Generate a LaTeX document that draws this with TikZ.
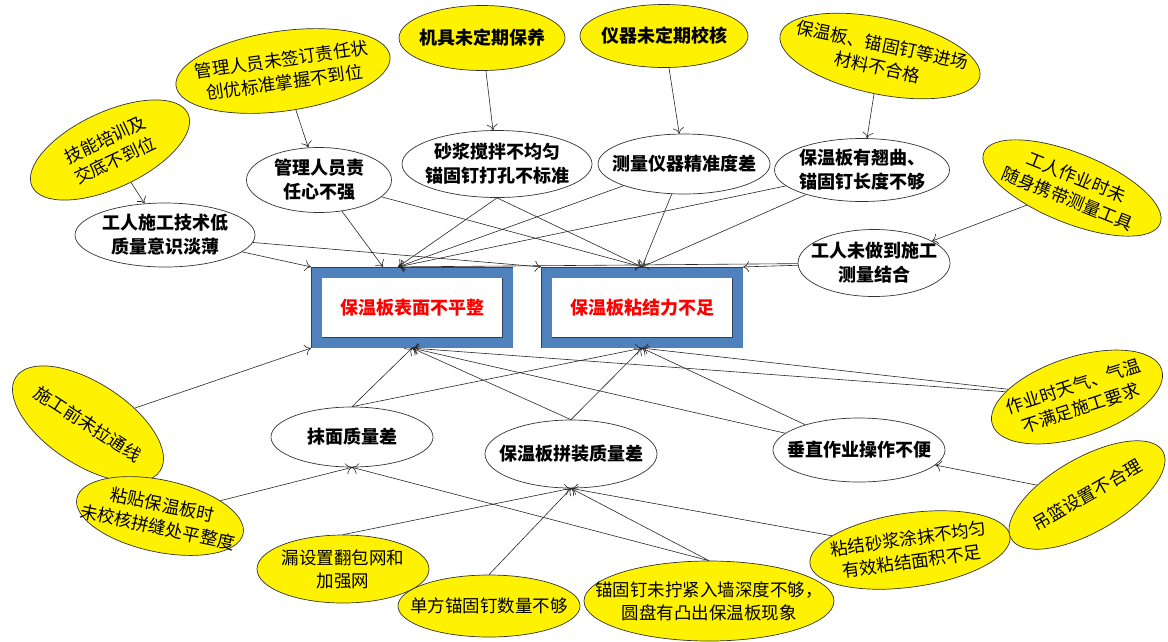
\documentclass[tikz,border=0pt]{standalone}
\usepackage{fontspec}
\setmainfont{Noto Sans CJK SC}
\usetikzlibrary{shapes.geometric,arrows.meta}
\definecolor{boxblue}{RGB}{79,129,189}
\definecolor{boxline}{RGB}{45,65,95}

\begin{document}
\begin{tikzpicture}[x=1pt, y=-1pt,
    cause/.style={ellipse, draw=black!80, line width=0.7pt, fill=white, inner xsep=-70pt, inner ysep=-25pt, align=center, font=\fontsize{18}{24}\selectfont\bfseries},
    root/.style={cause, fill=yellow, font=\fontsize{17.5}{23}\selectfont},
    effect/.style={rectangle, draw=boxline, line width=0.6pt, double=boxblue, double distance=10pt, fill=white, minimum width=191pt, minimum height=70pt, outer sep=5.6pt, text=red, font=\fontsize{18}{24}\selectfont\bfseries},
    con/.style={-{To[length=6pt,width=11pt]}, line width=0.6pt, black!85}]
    \useasboundingbox (0,0) rectangle (1168,641);

    \node[effect](b1) at (412,307.5){保温板表面不平整};
    \node[effect](b2) at (642,307.5){保温板粘结力不足};

    \node[cause, minimum width=180, minimum height=64](w1) at (165,235){工人施工技术低\\质量意识淡薄};
    \node[cause, minimum width=145, minimum height=65](w2) at (319,180){管理人员责\\任心不强};
    \node[cause, minimum width=190, minimum height=67](w3) at (497,164){砂浆搅拌不均匀\\锚固钉打孔不标准};
    \node[cause, minimum width=172, minimum height=60](w4) at (684,164){测量仪器精准度差};
    \node[cause, minimum width=175, minimum height=63](w5) at (862,170){保温板有翘曲、\\锚固钉长度不够};
    \node[cause, minimum width=152, minimum height=67](w6) at (874,263){工人未做到施工\\测量结合};
    \node[cause, minimum width=162, minimum height=60](w7) at (352,437){抹面质量差};
    \node[cause, minimum width=172, minimum height=68](w8) at (571,454){保温板拼装质量差};
    \node[cause, minimum width=172, minimum height=64](w9) at (859,450){垂直作业操作不便};

    \node[root, rotate=25, minimum width=172, minimum height=76](y1) at (110,150){技能培训及\\交底不到位};
    \node[root, rotate=8, minimum width=216, minimum height=80](y2) at (283,71){管理人员未签订责任状\\创优标准掌握不到位};
    \node[root, font=\fontsize{18}{24}\selectfont\bfseries, minimum width=166, minimum height=65](y3) at (482,38){机具未定期保养};
    \node[root, font=\fontsize{18}{24}\selectfont\bfseries, minimum width=168, minimum height=63](y4) at (664,36){仪器未定期校核};
    \node[root, rotate=-12, minimum width=204, minimum height=76](y5) at (880,56){保温板、锚固钉等进场\\材料不合格};
    \node[root, rotate=-22, minimum width=190, minimum height=70](y6) at (1072,188){工人作业时未\\随身携带测量工具};
    \node[root, rotate=-33, minimum width=172, minimum height=82](y7) at (88,424){施工前未拉通线};
    \node[root, rotate=-12, minimum width=170, minimum height=72](y8) at (160,516){粘贴保温板时\\未校核拼缝处平整度};
    \node[root, minimum width=172, minimum height=68](y9) at (343,569){漏设置翻包网和\\加强网};
    \node[root, minimum width=182, minimum height=62](y10) at (489,606){单方锚固钉数量不够};
    \node[root, minimum width=250, minimum height=80](y11) at (709,601){锚固钉未拧紧入墙深度不够，\\圆盘有凸出保温板现象};
    \node[root, rotate=8, minimum width=202, minimum height=74](y12) at (910,550){粘结砂浆涂抹不均匀\\有效粘结面积不足};
    \node[root, rotate=18, minimum width=178, minimum height=80](y13) at (1077,397){作业时天气、气温\\不满足施工要求};
    \node[root, rotate=30, minimum width=175, minimum height=74](y14) at (1087,495){吊篮设置不合理};

    \draw[con](y1)--(w1);
    \draw[con](y2)--(w2);
    \draw[con](y3)--(w3);
    \draw[con](y4)--(w4);
    \draw[con](y5)--(w5);
    \draw[con](y6)--(w6);

    \draw[con](w1)--(b1.north west);
    \draw[con](w1)--(b2.north west);
    \draw[con](w2)--([xshift=-29]b1.north);
    \draw[con](w2)--(b2.north);
    \draw[con](w3.south)--([xshift=-14]b1.north);
    \draw[con](w3.south)--(b2.north);
    \draw[con](w4)--([xshift=-14]b1.north);
    \draw[con](w4)--(b2.north);
    \draw[con](w5)--([xshift=-14]b1.north);
    \draw[con](w5)--(b2.north);
    \draw[con](w6)--([xshift=-14]b1.north);
    \draw[con](w6)--(b2.north east);

    \draw[con](y7)--(b1.south west);
    \draw[con](w7.north)--(b1.south);
    \draw[con](w7.north)--(b2.south);
    \draw[con](w8.north)--(b1.south);
    \draw[con](w8.north)--(b2.south);
    \draw[con](w9)--(b1.south);
    \draw[con](w9)--(b2.south);
    \draw[con](y13)--(b1.south);
    \draw[con](y13)--(b2.south);

    \draw[con](y8)--(w7.south);
    \draw[con](y11.north)--(w7.south);
    \draw[con](y9.north)--(w8.south);
    \draw[con](y10.north)--(w8.south);
    \draw[con](y11.north)--(w8.south);
    \draw[con](y12)--(w8.south);
    \draw[con](y14)--(w9);
\end{tikzpicture}
\end{document}
